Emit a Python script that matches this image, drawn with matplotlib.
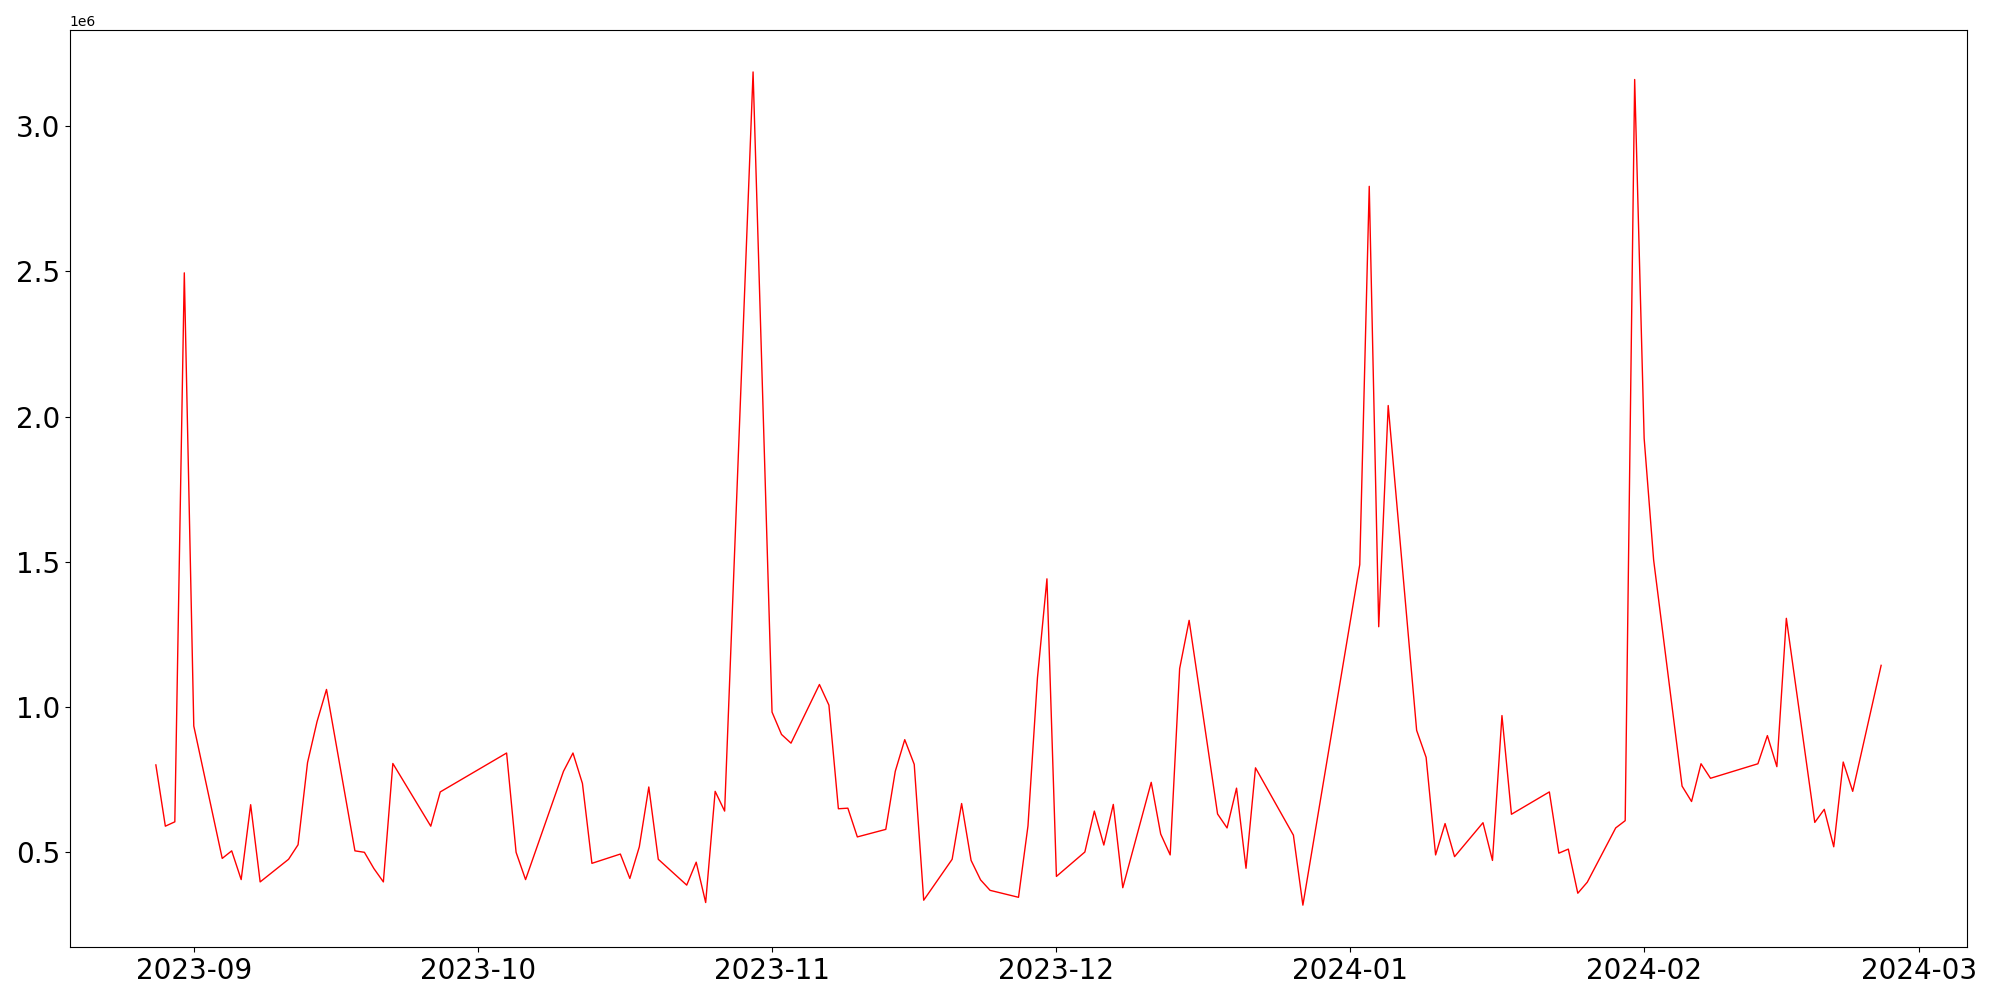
import matplotlib
matplotlib.use("Agg")
import matplotlib.pyplot as plt
import pandas as pd

dates = [
    "2023-08-28", "2023-08-29", "2023-08-30", "2023-08-31", "2023-09-01",
    "2023-09-04", "2023-09-05", "2023-09-06", "2023-09-07", "2023-09-08",
    "2023-09-11", "2023-09-12", "2023-09-13", "2023-09-14", "2023-09-15",
    "2023-09-18", "2023-09-19", "2023-09-20", "2023-09-21", "2023-09-22",
    "2023-09-26", "2023-09-27",
    "2023-10-04", "2023-10-05", "2023-10-06",
    "2023-10-10", "2023-10-11", "2023-10-12", "2023-10-13",
    "2023-10-16", "2023-10-17", "2023-10-18", "2023-10-19", "2023-10-20",
    "2023-10-23", "2023-10-24", "2023-10-25", "2023-10-26", "2023-10-27",
    "2023-10-30", "2023-11-01", "2023-11-02", "2023-11-03",
    "2023-11-06", "2023-11-07", "2023-11-08", "2023-11-09", "2023-11-10",
    "2023-11-13", "2023-11-14", "2023-11-15", "2023-11-16", "2023-11-17",
    "2023-11-20", "2023-11-21", "2023-11-22", "2023-11-23", "2023-11-24",
    "2023-11-27", "2023-11-28", "2023-11-29", "2023-11-30", "2023-12-01",
    "2023-12-04", "2023-12-05", "2023-12-06", "2023-12-07", "2023-12-08",
    "2023-12-11", "2023-12-12", "2023-12-13", "2023-12-14", "2023-12-15",
    "2023-12-18", "2023-12-19", "2023-12-20", "2023-12-21", "2023-12-22",
    "2023-12-26", "2023-12-27",
    "2024-01-02", "2024-01-03", "2024-01-04", "2024-01-05",
    "2024-01-08", "2024-01-09", "2024-01-10", "2024-01-11", "2024-01-12",
    "2024-01-15", "2024-01-16", "2024-01-17", "2024-01-18",
    "2024-01-22", "2024-01-23", "2024-01-24", "2024-01-25", "2024-01-26",
    "2024-01-29", "2024-01-30", "2024-01-31", "2024-02-01", "2024-02-02",
    "2024-02-05", "2024-02-06", "2024-02-07", "2024-02-08",
    "2024-02-13", "2024-02-14", "2024-02-15", "2024-02-16",
    "2024-02-19", "2024-02-20", "2024-02-21", "2024-02-22", "2024-02-23",
    "2024-02-26",
]

volume = [
    800000, 589000, 604000, 2495000, 934000,
    478000, 504000, 405000, 663000, 397000,
    475000, 525000, 808000, 949000, 1060000,
    504000, 499000, 443000, 397000, 805000,
    589000, 707000,
    841000, 499000, 405000,
    778000, 841000, 736000, 461000,
    493000, 409000, 518000, 724000, 475000,
    386000, 465000, 326000, 709000, 641000,
    3187000, 982000, 905000, 875000,
    1077000, 1006000, 649000, 651000, 552000,
    578000, 778000, 887000, 802000, 334000,
    475000, 667000, 471000, 404000, 368000,
    344000, 590000, 1100000, 1441000, 416000,
    500000, 641000, 524000, 664000, 377000,
    740000, 562000, 490000, 1132000, 1298000,
    631000, 583000, 720000, 444000, 790000,
    558000, 317000,
    1490000, 2793000, 1276000, 2038000,
    919000, 826000, 490000, 598000, 484000,
    601000, 471000, 970000, 630000,
    707000, 496000, 510000, 358000, 396000,
    583000, 608000, 3161000, 1925000, 1506000,
    727000, 674000, 804000, 754000,
    804000, 901000, 794000, 1305000,
    602000, 647000, 518000, 810000, 709000,
    1143000,
]

x = pd.to_datetime(dates)

fig = plt.figure(figsize=(20, 10), dpi=100)
ax = fig.add_axes([0.0348, 0.0532, 0.9489, 0.9165])
ax.plot(x, volume, color="red", linewidth=1.0)
ax.tick_params(axis="both", labelsize=20)

fig.savefig("out.png", dpi=100)
